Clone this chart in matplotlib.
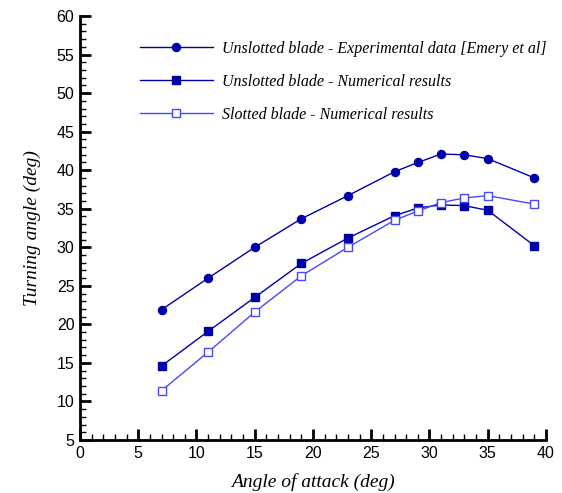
import matplotlib
matplotlib.use("Agg")
import matplotlib.pyplot as plt
from matplotlib.ticker import MultipleLocator

aoa = [7, 11, 15, 19, 23, 27, 29, 31, 33, 35, 39]
exp_unslotted = [21.9, 26.0, 30.0, 33.7, 36.7, 39.8, 41.0, 42.1, 42.0, 41.5, 39.0]
num_unslotted = [14.6, 19.1, 23.5, 27.9, 31.2, 34.1, 35.1, 35.5, 35.4, 34.8, 30.2]
num_slotted = [11.4, 16.4, 21.6, 26.3, 30.0, 33.5, 34.7, 35.8, 36.4, 36.7, 35.6]

labels = ["Unslotted blade - Experimental data [Emery et al]",
          "Unslotted blade - Numerical results",
          "Slotted blade - Numerical results"]

fig = plt.figure(figsize=(5.62, 4.93), dpi=100)
ax = fig.add_axes([0.1423, 0.1075, 0.8292, 0.86])

dark = "#0000A8"
light = "#4848FF"
ax.plot(aoa, exp_unslotted, color=dark, lw=1.0, marker="o", ms=5.8, mfc=dark, mec=dark, label=labels[0])
ax.plot(aoa, num_unslotted, color=dark, lw=1.0, marker="s", ms=5.3, mfc=dark, mec=dark, label=labels[1])
ax.plot(aoa, num_slotted, color=light, lw=1.0, marker="s", ms=5.3, mfc="white", mec=light, mew=1.0, label=labels[2])

ax.set_xlim(0, 40)
ax.set_ylim(5, 60)
ax.xaxis.set_major_locator(MultipleLocator(5))
ax.xaxis.set_minor_locator(MultipleLocator(1))
ax.yaxis.set_major_locator(MultipleLocator(5))
ax.yaxis.set_minor_locator(MultipleLocator(1))
for s in ["top", "right"]:
    ax.spines[s].set_visible(False)
for s in ["left", "bottom"]:
    ax.spines[s].set_linewidth(2)
ax.tick_params(which="major", direction="in", length=8, width=2, labelsize=11.5, pad=4)
ax.tick_params(which="minor", direction="in", length=4.5, width=1)
for lab in ax.get_xticklabels() + ax.get_yticklabels():
    lab.set_family("Liberation Sans")

font = dict(family="Liberation Serif", style="italic", size=14)
ax.set_xlabel("Angle of attack (deg)", fontdict=font, labelpad=9)
ax.set_ylabel("Turning angle (deg)", fontdict=font, labelpad=11)

leg = ax.legend(loc="upper left", bbox_to_anchor=(0.097, 0.975), frameon=False,
                prop=dict(family="Liberation Serif", style="italic", size=11.5),
                handlelength=4.6, handletextpad=0.55, labelspacing=1.05)

fig.savefig("out.png", dpi=100)
